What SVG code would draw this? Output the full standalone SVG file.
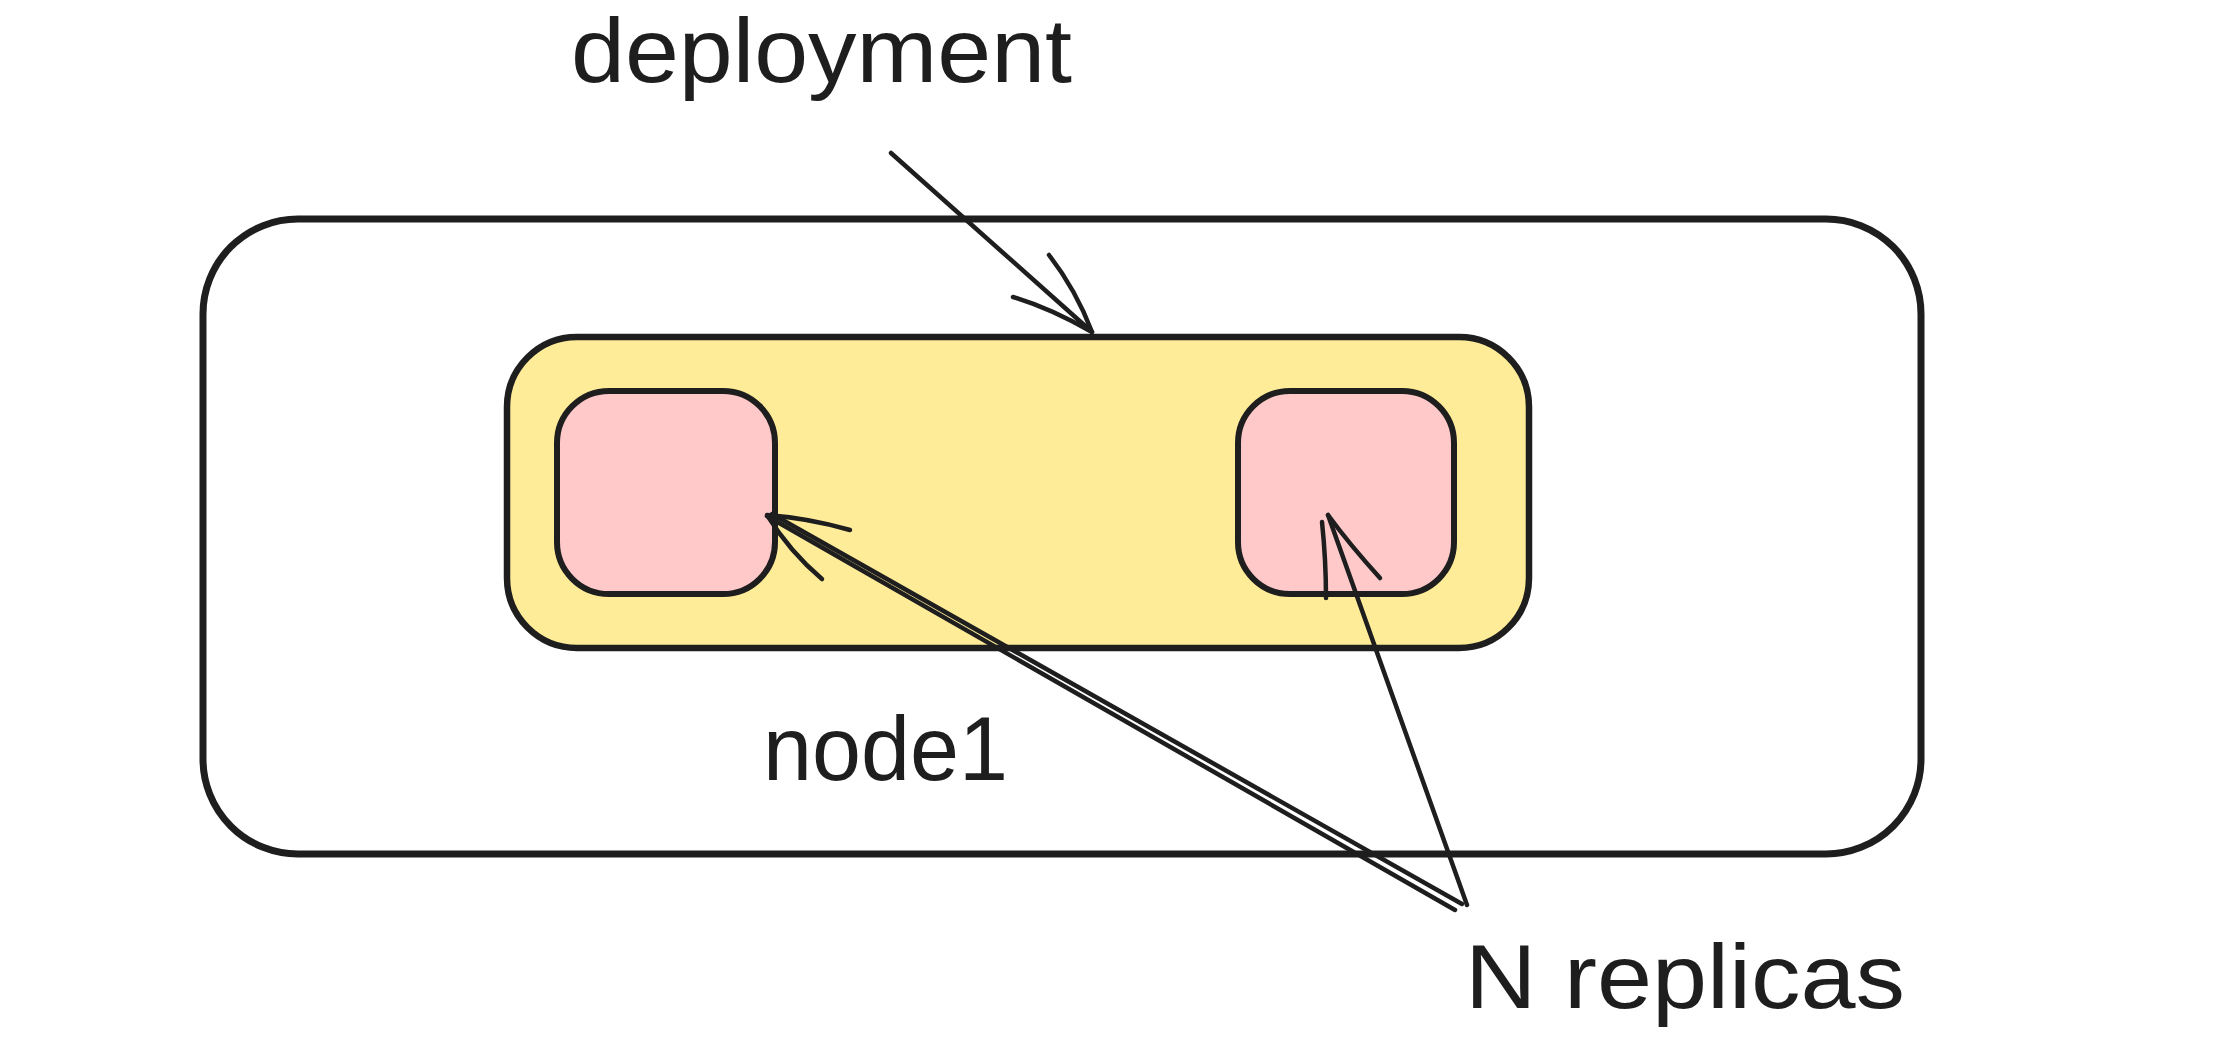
<svg xmlns="http://www.w3.org/2000/svg" width="2216" height="1050" viewBox="0 0 2216 1050">
  <style>
    .box { stroke: #1e1e1e; stroke-linejoin: round; }
    .outer { fill: none; stroke-width: 7; }
    .yellow { fill: #ffec99; stroke-width: 6.5; }
    .pink { fill: #ffc9c9; stroke-width: 6; }
    .arrow { fill: none; stroke: #1e1e1e; stroke-width: 4.5; stroke-linecap: round; stroke-linejoin: round; }
    .label { font-family: "Liberation Sans", Arial, sans-serif; font-size: 90px; fill: #1e1e1e; }
  </style>
  <rect width="2216" height="1050" fill="#ffffff"/>

  <g id="cluster">
    <rect class="box outer" x="203" y="219" width="1718" height="635" rx="95" ry="95"/>
  </g>
  <g id="node1">
    <rect class="box yellow" x="507" y="337" width="1022" height="311" rx="70" ry="70"/>
  </g>
  <g id="pod-left">
    <rect class="box pink" x="557" y="391" width="218" height="203" rx="52" ry="52"/>
  </g>
  <g id="pod-right">
    <rect class="box pink" x="1238" y="391" width="216" height="203" rx="52" ry="52"/>
  </g>

  <g id="label-deployment">
    <text class="label" x="571" y="82" textLength="501" lengthAdjust="spacingAndGlyphs">deployment</text>
  </g>
  <g id="label-node1">
    <text class="label" x="763" y="780" textLength="245" lengthAdjust="spacingAndGlyphs">node1</text>
  </g>
  <g id="label-replicas">
    <text class="label" x="1465" y="1008" textLength="440" lengthAdjust="spacingAndGlyphs">N replicas</text>
  </g>

  <g id="connectors">
    <!-- deployment -> node1 -->
    <path class="arrow" d="M891 153 L1092 332"/>
    <path class="arrow" d="M1013 297 Q1050 308 1092 332 Q1076 290 1049 255"/>
    <!-- N replicas -> left pod -->
    <path class="arrow" d="M1455 910 L767 516"/>
    <path class="arrow" d="M1462 904 L772 514"/>
    <path class="arrow" d="M850 530 Q808 518 767 515 Q790 552 822 579"/>
    <!-- N replicas -> right pod -->
    <path class="arrow" d="M1467 905 L1328 515"/>
    <path class="arrow" d="M1380 578 Q1350 545 1328 515"/>
    <path class="arrow" d="M1322 522 Q1326 560 1326 598"/>
  </g>
</svg>
